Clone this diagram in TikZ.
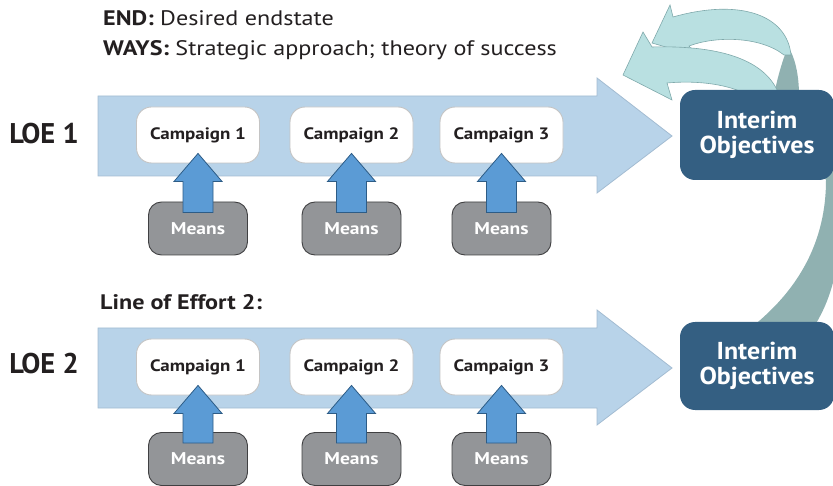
\documentclass[tikz,border=0pt]{standalone}
\usepackage{fontspec}
\setmainfont{PT Sans}
\newfontfamily\widefont{PT Sans}[FakeStretch=1.15]
\newfontfamily\iofont{PT Sans}[FakeStretch=1.06]
\usetikzlibrary{calc}
\definecolor{loeblue}{HTML}{B8D3E9}
\definecolor{loeedge}{HTML}{A3BCD2}
\definecolor{campedge}{HTML}{C4C4C4}
\definecolor{meansfill}{HTML}{939598}
\definecolor{meansedge}{HTML}{404042}
\definecolor{upfill}{HTML}{5B9BD5}
\definecolor{upedge}{HTML}{2D5C86}
\definecolor{iofill}{HTML}{345F82}
\definecolor{cyanfill}{HTML}{B9E0E1}
\definecolor{cyanedge}{HTML}{7FA9AB}
\definecolor{bandfill}{HTML}{90B1B1}
\definecolor{txt}{HTML}{231F20}
\tikzset{
  loearrow/.style={fill=loeblue, draw=loeedge, line width=0.8pt},
  camp/.style={draw=campedge, fill=white, line width=0.9pt, rounded corners=15pt,
    minimum width=123pt, minimum height=56pt, inner sep=0pt,
    font=\widefont\fontsize{16.5}{18}\selectfont\bfseries, text=txt},
  means/.style={draw=meansedge, fill=meansfill, line width=0.9pt, rounded corners=13pt,
    minimum width=99pt, minimum height=53pt, inner sep=0pt,
    font=\widefont\fontsize{17}{18}\selectfont\bfseries, text=white, text depth=0pt},
  uparr/.style={fill=upfill, draw=upedge, line width=0.8pt, line join=miter},
  iobox/.style={fill=iofill, rounded corners=15pt, minimum width=154pt, minimum height=90pt,
    inner sep=0pt, align=center, text=white, font=\iofont\fontsize{24.5}{25}\selectfont\bfseries},
  loelabel/.style={font=\fontsize{28.5}{30}\selectfont\bfseries, text=txt, inner sep=0pt},
  head/.style={font=\widefont\fontsize{21}{24}\selectfont, text=txt, inner sep=0pt, anchor=base west},
  ribbon/.style={fill=cyanfill, draw=cyanedge, line width=0.6pt, line join=miter},
}
\newcommand\meansarrow[2]{%
  \draw[uparr] ($(#1.north)+(-15,11)$) -- ($(#2.south)+(-15,18)$) -- ($(#2.south)+(-24,18)$)
    -- ($(#2.south)+(0,-10)$) -- ($(#2.south)+(24,18)$) -- ($(#2.south)+(15,18)$)
    -- ($(#1.north)+(15,11)$) -- cycle;}
\begin{document}
\begin{tikzpicture}[x=1pt,y=-1pt]
\useasboundingbox (0,0) rectangle (833,486);
% back band of the loop
\fill[bandfill] (748,330) .. controls (800,290) and (826,240) .. (826,180)
  -- (774,95) .. controls (777,80) and (781,65) .. (786,52)
  -- (791,52) .. controls (796,62) and (799,78) .. (799,95)
  -- (840,150) -- (840,220) .. controls (840,275) and (828,305) .. (812,330) -- cycle;
% upper returning arrow
\draw[ribbon] (791,55) .. controls (787,15) and (740,-2) .. (673,17) -- (670,5) -- (652,43)
  -- (697,56) -- (689,46) .. controls (715,36) and (760,36) .. (784,55) -- cycle;
% lower returning arrow
\draw[ribbon] (778,92) .. controls (765,62) and (725,45) .. (652,47) -- (643,32) -- (623,75)
  -- (672,100) -- (667,83) .. controls (700,80) and (730,85) .. (748,95) -- cycle;
% lines of effort
\draw[loearrow] (98,96) -- (597,96) -- (597,78) -- (672,136) -- (597,193) -- (597,176) -- (98,176) -- cycle;
\draw[loearrow] (98,328) -- (597,328) -- (597,310) -- (672,368) -- (597,425) -- (597,408) -- (98,408) -- cycle;
% interim objectives
\node[iobox] (io1) at (757,135) {Interim\\Objectives};
\node[iobox, minimum height=88pt] (io2) at (757,366) {Interim\\Objectives};
% labels
\node[loelabel] (lo1) at (44,134) {LOE 1};
\node[loelabel] (lo2) at (44,364) {LOE 2};
\node[head] (endl) at (103,26) {\textbf{END:} Desired endstate};
\node[head] (ways) at (103,56) {\textbf{WAYS:} Strategic approach; theory of success};
\node[head, font=\widefont\fontsize{21}{24}\selectfont\bfseries] (loe2t) at (100,310) {Line of Effort 2:};
% campaigns and means
\foreach \r/\cy/\my in {1/135/228.5, 2/367/459}{
  \foreach \c/\cx in {1/198, 2/351.5, 3/501.5}{
    \node[camp] (c\r\c) at (\cx,\cy) {Campaign \c};
    \node[means] (m\r\c) at (\cx,\my) {Means};
    \meansarrow{m\r\c}{c\r\c}
  }
}
\end{tikzpicture}
\end{document}
